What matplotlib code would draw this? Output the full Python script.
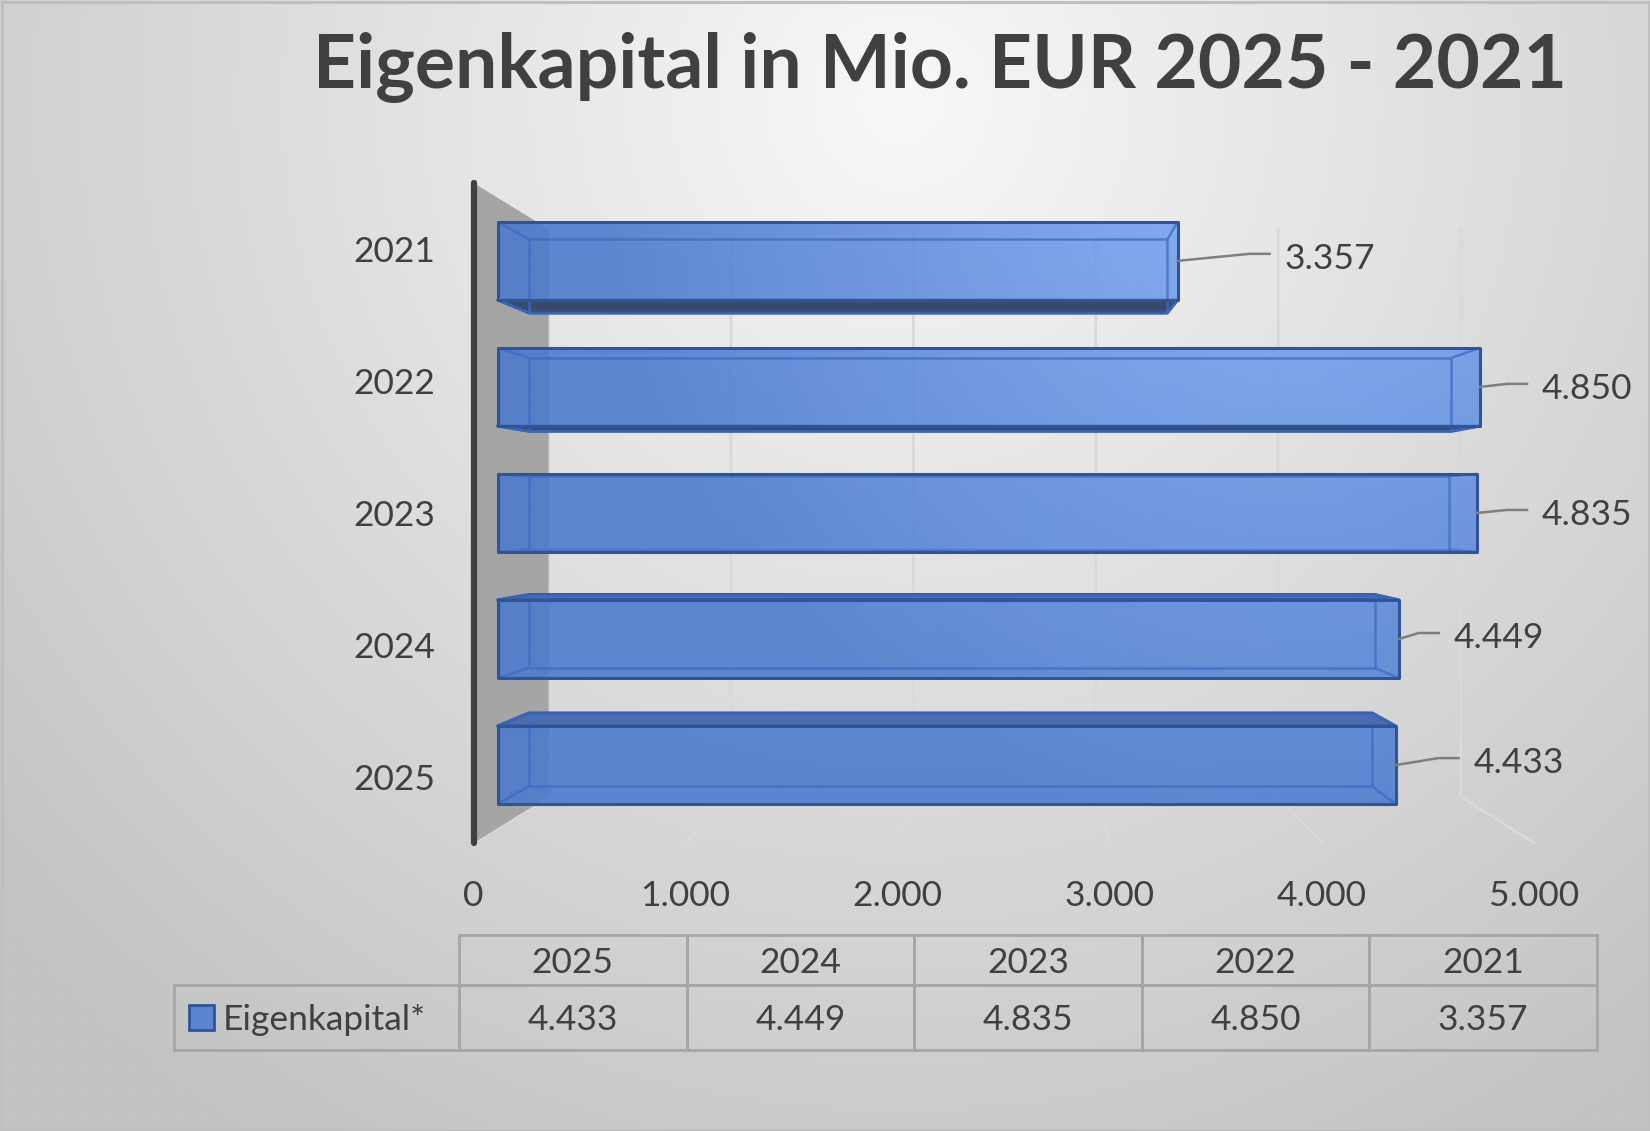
import numpy as np
import matplotlib
matplotlib.use('Agg')
import matplotlib.pyplot as plt
from matplotlib.patches import Polygon, Rectangle
from matplotlib.collections import LineCollection
from matplotlib.table import Table

# ---------------- data ----------------
years = ['2025', '2024', '2023', '2022', '2021']
equity = [4433, 4449, 4835, 4850, 3357]
x_ticks = [0, 1000, 2000, 3000, 4000, 5000]
x_max = 5000
title = 'Eigenkapital in Mio. EUR 2025 - 2021'
series_name = 'Eigenkapital*'

# ---------------- layout (pixel offsets of the data labels) ----------------
label_offsets = [(78, -5), (55, -4), (65, -1), (62, -1), (107, -5)]


def de(v):
    return f'{v:,.0f}'.replace(',', '.')


plt.rcParams['font.family'] = ['Lato', 'DejaVu Sans']
TXT = '#404040'
FS = 25.5
GRIDC = '#a6a6a6'

W, H, DPI = 1650, 1131, 100
fig = plt.figure(figsize=(W / DPI, H / DPI), dpi=DPI)


def rect_px(left, top, width, height):
    return [left / W, (H - top - height) / H, width / W, height / H]


# canvas axes: pixel coordinates measured from the top-left corner
cv = fig.add_axes([0, 0, 1, 1], zorder=0)
cv.set_xlim(0, W)
cv.set_ylim(H, 0)
cv.set_autoscale_on(False)
cv.axis('off')

yy, xx = np.mgrid[0:H:3, 0:W:3]
r = np.hypot((xx - 900) / 1100, (yy - 100) / 1100)
b = np.clip(248 - 48 * r, 195, 250) / 255
cv.imshow(np.dstack([b, b, b]), extent=[0, W, H, 0], aspect='auto',
          interpolation='bilinear', zorder=0)

# ---------------- perspective planes ----------------
VX, VY = 1010, 512
RL, RT, RW, RH = 473.5, 183, 1060.5, 660
n = len(years)


def plane(k, z=1):
    ax = fig.add_axes(rect_px(VX + k * (RL - VX), VY + k * (RT - VY), k * RW, k * RH), zorder=z)
    ax.set_xlim(0, x_max)
    ax.set_ylim(-0.5, n - 0.5)
    ax.patch.set_visible(False)
    for s in ax.spines.values():
        s.set_visible(False)
    return ax


ref = plane(1.0, z=2)
front = plane(0.955)
back = plane(0.897)
wall = plane(0.86)
for a in (front, back, wall):
    a.axis('off')


def P(ax, v, i):
    d = ax.transData.transform((v, i))
    return cv.transData.inverted().transform(d)


ref.set_xticks(x_ticks, [de(v) for v in x_ticks])
ref.set_yticks(range(n), years)
ref.tick_params(length=0, labelsize=FS, labelcolor=TXT)
ref.tick_params(axis='x', pad=27)
ref.tick_params(axis='y', pad=27.7)

# gridlines on back wall + floor
for v in x_ticks:
    pt = P(wall, v, n - 0.5)
    pb = P(wall, v, -0.5)
    pf = P(ref, v, -0.5)
    cv.plot([pt[0], pb[0], pf[0]], [pt[1], pb[1], pf[1]], color='#d9d9d9',
            lw=2, zorder=1)

# side wall
wpts = [P(ref, 0, n - 0.5), P(wall, 0, n - 0.5), P(wall, 0, -0.5), P(ref, 0, -0.5)]
cv.add_patch(Polygon(wpts, closed=True, fc='#a5a5a5', ec='none', zorder=2))
a0, a1 = P(ref, 0, n - 0.5), P(ref, 0, -0.5)
cv.plot([a0[0], a1[0]], [a0[1], a1[1]], color='#404040', lw=4.5,
        solid_capstyle='round', zorder=2.5)

# ---------------- bars ----------------
HB = 0.31
C0 = np.array([75, 122, 205]) / 255
C1 = np.array([128, 169, 247]) / 255
EDGE = '#2f5597'
for i, v in enumerate(equity):
    F = [P(front, 0, i + HB), P(front, v, i + HB), P(front, v, i - HB), P(front, 0, i - HB)]
    B = [P(back, 0, i + HB), P(back, v, i + HB), P(back, v, i - HB), P(back, 0, i - HB)]
    if B[3][1] > F[3][1] + 0.5:
        cv.add_patch(Polygon([F[3], F[2], B[2], B[3]], closed=True, fc='#3a4a6c',
                             ec=EDGE, lw=2.2, zorder=3, joinstyle='round'))
    if B[0][1] < F[0][1] - 0.5:
        cv.add_patch(Polygon([F[0], F[1], B[1], B[0]], closed=True, fc='#4d6caf',
                             ec=EDGE, lw=2.2, zorder=3, joinstyle='round'))
    x0 = min(p[0] for p in F); x1 = max(p[0] for p in F)
    y0 = min(p[1] for p in F); y1 = max(p[1] for p in F)
    gx, gy = np.meshgrid(np.linspace(x0, x1, 300), np.linspace(y0, y1, 30))
    t = np.clip(1 - np.hypot(gx - 1300, gy - 150) / 700, 0, 1)[..., None]
    rgb = C0 + t * (C1 - C0)
    img = np.concatenate([rgb, np.full(t.shape, 0.88)], axis=2)
    fpoly = Polygon(F, closed=True, fc='none', ec=EDGE, lw=2.2, zorder=6, joinstyle='round')
    cv.add_patch(fpoly)
    im = cv.imshow(img, extent=[x0, x1, y1, y0], aspect='auto',
                   interpolation='bilinear', zorder=4)
    im.set_clip_path(fpoly)
    segs = [[B[0], B[1]], [B[1], B[2]], [B[2], B[3]], [B[3], B[0]]] + \
           [[F[k], B[k]] for k in range(4)]
    cv.add_collection(LineCollection(segs, colors='#3d6cc4', linewidths=1.8,
                                     alpha=0.75, zorder=5))

# data labels with leader lines
for i, v in enumerate(equity):
    ex, ey = P(front, v, i)
    dx, dy = label_offsets[i]
    lx, ly = ex + dx, ey + dy
    cv.plot([ex, lx - 35, lx - 15], [ey, ly - 2, ly - 2], color='#7f7f7f', lw=1.8, zorder=6)
    cv.text(lx, ly, de(v), ha='left', va='center_baseline', fontsize=FS, color=TXT, zorder=7)

# ---------------- data table ----------------
TW, TH = 1423.0, 115.0
tax = fig.add_axes(rect_px(174, 935, TW, TH), zorder=5)
tax.axis('off')
CW, LW, H0, H1 = 227.6 / TW, 285 / TW, 50 / TH, 65 / TH
tbl = Table(tax, bbox=[LW, 0, 1 - LW, 1])
for c, yr in enumerate(years):
    tbl.add_cell(0, c, width=CW, height=H0, text=yr, loc='center',
                 facecolor='none', edgecolor=GRIDC)
lab = tbl.add_cell(1, -1, width=LW, height=H1, text=series_name, loc='left',
                   facecolor='none', edgecolor=GRIDC)
lab.PAD = 49 / 285
for c, v in enumerate(equity):
    tbl.add_cell(1, c, width=CW, height=H1, text=de(v), loc='center',
                 facecolor='none', edgecolor=GRIDC)
tbl.auto_set_font_size(False)
tbl.set_fontsize(FS)
for cell in tbl.get_celld().values():
    cell.set_linewidth(2)
    cell.get_text().set_color(TXT)
    cell.get_text().set_va('center_baseline')
tax.add_table(tbl)
tax.add_patch(Rectangle((15 / TW, 20 / TH), 25 / TW, 25 / TH, transform=tax.transAxes,
                        fc='#5b85cf', ec=EDGE, lw=2, zorder=10, clip_on=False))

# ---------------- title & frame ----------------
fig.text(940.5 / W, 1 - 88 / H, title, ha='center', va='baseline', fontsize=54,
         fontweight='bold', color=TXT)
cv.add_patch(Rectangle((1.5, 1.5), W - 3, H - 3, fill=False, ec='#bfbfbf', lw=2.2, zorder=20))

fig.savefig('out.png', dpi=DPI)
